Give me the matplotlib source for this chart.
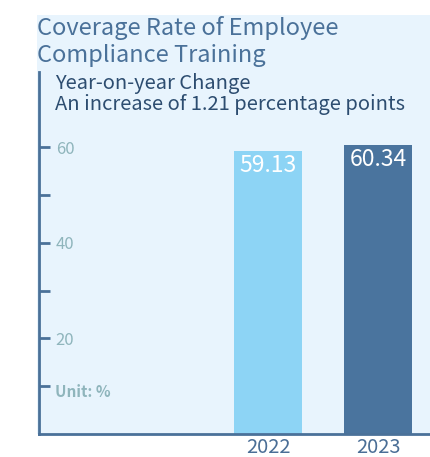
import matplotlib.pyplot as plt
from matplotlib.patches import Rectangle

years = ['2022', '2023']
coverage = [59.13, 60.34]
bar_colors = ['#8DD4F5', '#4A749E']
major_ticks = [20, 40, 60]
minor_ticks = [10, 30, 50]

plt.rcParams['font.family'] = ['Noto Sans CJK SC', 'DejaVu Sans']
plt.rcParams['font.weight'] = 'medium'

fig = plt.figure(figsize=(4.3, 4.57), dpi=100)
W, H = 430, 457

# light panel behind everything
fig.patches.append(Rectangle((37 / W, 23 / H), (W - 37) / W, (434 - 15) / H,
                             transform=fig.transFigure, facecolor='#E8F4FD',
                             edgecolor='none', zorder=-5))

ax = fig.add_axes([39 / W, 23 / H, (W - 39) / W, (434 - 72) / H])
ax.patch.set_visible(False)

x = list(range(len(years)))
bars = ax.bar(x, coverage, width=0.62, color=bar_colors, zorder=2)
for b, v in zip(bars, coverage):
    ax.text(b.get_x() + b.get_width() / 2, v - 0.6, f'{v:.2f}', ha='center', va='top',
            color='white', fontsize=16.5, zorder=3)

ax.set_xlim(-2.08, 1.47)
ax.set_ylim(0, 75.7)

axis_c = '#4A7199'
for s in ['top', 'right']:
    ax.spines[s].set_visible(False)
ax.spines['left'].set_color(axis_c)
ax.spines['left'].set_linewidth(2)
ax.spines['bottom'].set_color(axis_c)
ax.spines['bottom'].set_linewidth(2)

ax.set_xticks(x)
ax.set_xticklabels(years, fontsize=14.5, color='#4A6E96')
ax.tick_params(axis='x', length=0, pad=2)

ax.set_yticks(major_ticks)
ax.set_yticklabels([str(t) for t in major_ticks], fontsize=12, color='#8FB5BC')
ax.set_yticks(minor_ticks, minor=True)
ax.tick_params(axis='y', which='both', direction='in', length=8, width=2,
               color=axis_c, pad=-12)
for lbl in ax.get_yticklabels():
    lbl.set_horizontalalignment('left')

ax.text(16 / (W - 39), 8.7, 'Unit: %', transform=ax.get_yaxis_transform(),
        fontsize=11, color='#8FB5BC', fontweight='bold', va='center')

fig.text(37 / W, 1 - 35 / H, 'Coverage Rate of Employee',
         fontsize=17, color='#4A7199', va='baseline')
fig.text(37 / W, 1 - 62 / H, 'Compliance Training',
         fontsize=17, color='#4A7199', va='baseline')
fig.text(55 / W, 1 - 89 / H, 'Year-on-year Change',
         fontsize=14.5, color='#2D4D70', va='baseline')
fig.text(55 / W, 1 - 110 / H, 'An increase of 1.21 percentage points',
         fontsize=14.5, color='#2D4D70', va='baseline')

fig.savefig('out.png', dpi=100)
